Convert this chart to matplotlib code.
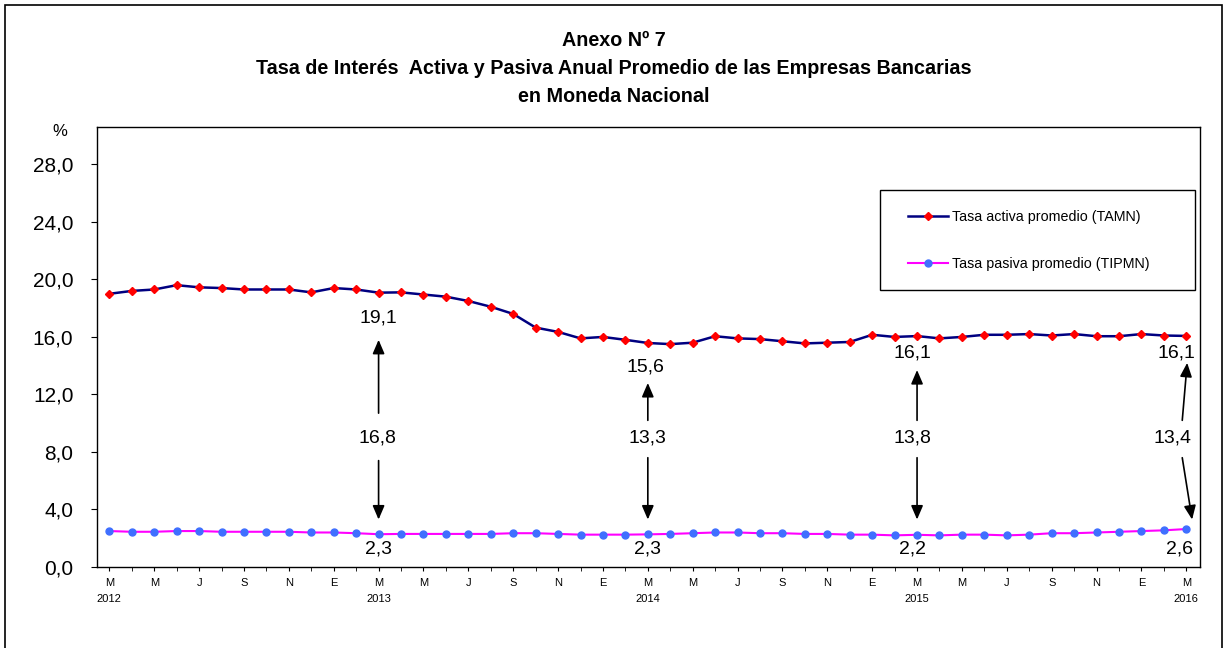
import matplotlib as mpl
import matplotlib.pyplot as plt
import numpy as np
from matplotlib.patches import Rectangle

mpl.use("agg")
plt.rcParams["font.family"] = ["Liberation Sans", "DejaVu Sans"]

# monthly series, March 2012 .. March 2016
tamn = [19.0, 19.2, 19.3, 19.6, 19.45, 19.4, 19.3, 19.3, 19.3, 19.1, 19.4, 19.3, 19.08,
        19.1, 18.95, 18.8, 18.5, 18.1, 17.6, 16.65, 16.35, 15.9, 16.0, 15.8, 15.58,
        15.5, 15.6, 16.05, 15.9, 15.85, 15.7, 15.55, 15.6, 15.65, 16.15, 16.0, 16.06,
        15.9, 16.0, 16.15, 16.15, 16.2, 16.1, 16.2, 16.05, 16.05, 16.2, 16.1, 16.07]
tipmn = [2.5, 2.45, 2.45, 2.5, 2.5, 2.45, 2.45, 2.45, 2.45, 2.4, 2.4, 2.35, 2.28,
         2.3, 2.3, 2.3, 2.3, 2.3, 2.35, 2.35, 2.3, 2.25, 2.25, 2.25, 2.27,
         2.3, 2.35, 2.4, 2.4, 2.35, 2.35, 2.3, 2.3, 2.25, 2.25, 2.2, 2.24,
         2.2, 2.25, 2.25, 2.2, 2.25, 2.35, 2.35, 2.4, 2.45, 2.5, 2.55, 2.64]

# month initials shown every two months, year under each March
month_labels = ["M", "M", "J", "S", "N", "E"] * 4 + ["M"]
years = {0: "2012", 12: "2013", 24: "2014", 36: "2015", 48: "2016"}

# March of each year gets the spread annotation
marked = [12, 24, 36, 48]


def fmt(v):
    return f"{v:.1f}".replace(".", ",")


x = np.arange(len(tamn))

fig = plt.figure(figsize=(12.28, 6.48), dpi=100)
ax = fig.add_axes([0.079, 0.125, 0.898, 0.679])

ax.plot(x, tamn, color="#000080", lw=1.8, marker="D", ms=4.5,
        mfc="#ff0000", mec="#ff0000", label="Tasa activa promedio (TAMN)")
ax.plot(x, tipmn, color="#ff00ff", lw=1.5, marker="o", ms=5,
        mfc="#3f6fff", mec="#3f6fff", label="Tasa pasiva promedio (TIPMN)")

ax.set_xlim(-0.55, 48.6)
ax.set_ylim(0, 30.6)
ax.set_yticks(np.arange(0, 29, 4))
ax.set_yticklabels([fmt(v) for v in np.arange(0, 29, 4)], fontsize=15)
ticks = np.arange(0, 49, 2)
ax.set_xticks(ticks)
ax.set_xticklabels([m + ("\n" + years[t] if t in years else "")
                    for m, t in zip(month_labels, ticks)], fontsize=8, linespacing=1.7)
ax.set_xticks(x, minor=True)
ax.tick_params(axis="x", which="both", direction="out", length=3, pad=5)
ax.tick_params(axis="y", direction="out", length=4, pad=13)
for s in ax.spines.values():
    s.set_linewidth(1.0)

# top value, spread and bottom value at each March
layout = {
    12: dict(top=(12, 17.3), up=((12, 10.7), (12, 15.8)), mid=(11.93, 9.0),
             down=((12, 7.4), (12, 3.3)), bot=(12, 1.25)),
    24: dict(top=(23.9, 13.9), up=((24, 10.2), (24, 12.8)), mid=(24, 9.0),
             down=((24, 7.6), (24, 3.3)), bot=(24, 1.25)),
    36: dict(top=(35.8, 14.9), up=((36, 10.2), (36, 13.7)), mid=(35.8, 9.0),
             down=((36, 7.6), (36, 3.3)), bot=(35.8, 1.25)),
    48: dict(top=(47.55, 14.9), up=((47.82, 10.2), (48.04, 14.2)), mid=(47.37, 9.0),
             down=((47.82, 7.6), (48.26, 3.3)), bot=(47.68, 1.25)),
}
arrow = dict(arrowstyle="-|>,head_length=0.7,head_width=0.3", color="black",
             lw=1.2, shrinkA=0, shrinkB=0, mutation_scale=12)
for i in marked:
    p = layout[i]
    ax.text(*p["top"], fmt(tamn[i]), ha="center", va="center", fontsize=14)
    ax.text(*p["mid"], fmt(tamn[i] - tipmn[i]), ha="center", va="center", fontsize=14)
    ax.text(*p["bot"], fmt(tipmn[i]), ha="center", va="center", fontsize=14)
    ax.annotate("", xy=p["up"][1], xytext=p["up"][0], arrowprops=arrow)
    ax.annotate("", xy=p["down"][1], xytext=p["down"][0], arrowprops=arrow)

# legend inside its own box
fig.patches.append(Rectangle((880 / 1228, 1 - 290 / 648), 315 / 1228, 100 / 648,
                             transform=fig.transFigure, fill=False, ec="black", lw=1))
ax.legend(loc="upper left", bbox_to_anchor=(895 / 1228, 1 - 197 / 648),
          bbox_transform=fig.transFigure, frameon=False, fontsize=10.3,
          handlelength=2.8, labelspacing=2.3, numpoints=1, handletextpad=0.3)

# outer frame
fig.patches.append(Rectangle((5 / 1228, -0.01), 1217 / 1228, 1.0 - 5 / 648 + 0.01,
                             transform=fig.transFigure, fill=False, ec="black", lw=1.2))

title_kw = dict(ha="center", va="center", fontsize=14.2, fontweight="bold")
fig.text(0.5, 1 - 40 / 648, "Anexo Nº 7", **title_kw)
fig.text(0.5, 1 - 69 / 648,
         "Tasa de Interés  Activa y Pasiva Anual Promedio de las Empresas Bancarias",
         **title_kw)
fig.text(0.5, 1 - 97 / 648, "en Moneda Nacional", **title_kw)
fig.text(60 / 1228, 1 - 131 / 648, "%", ha="center", va="center", fontsize=12)

fig.savefig("out.png", dpi=100)
